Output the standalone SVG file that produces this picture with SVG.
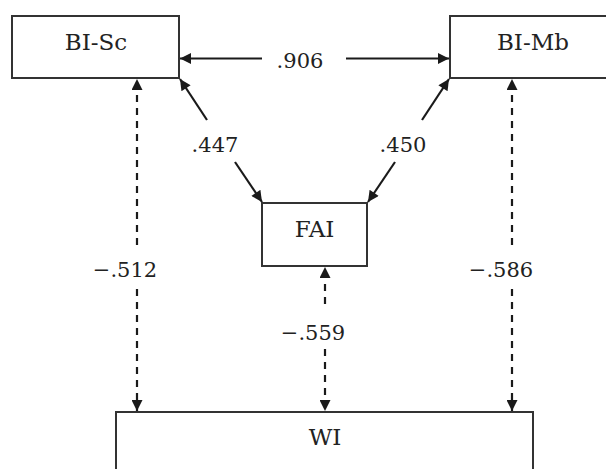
<svg xmlns="http://www.w3.org/2000/svg" width="606" height="469" viewBox="0 0 606 469">
<style>
.box{fill:#fff;stroke:#333;stroke-width:2}
.t{font-family:"DejaVu Serif","Liberation Serif",serif;fill:#222;text-anchor:middle}
.n{font-size:23px}
.lbl{font-size:21px}
.ln{stroke:#1a1a1a;stroke-width:2.2;fill:none}
.dash{stroke-dasharray:7 6}
</style>
<defs>
<marker id="ah" viewBox="0 0 10 10" refX="10" refY="5" markerUnits="userSpaceOnUse" markerWidth="13" markerHeight="11" orient="auto">
<path d="M0,0 L10,5 L0,10 z" fill="#1a1a1a"/>
</marker>
</defs>
<rect width="606" height="469" fill="#fff"/>
<g id="connectors">
<path class="ln" d="M262,58.5 L180,58.5" marker-end="url(#ah)"/>
<path class="ln" d="M346,58.5 L449,58.5" marker-end="url(#ah)"/>
<path class="ln" d="M207,120 L180,79" marker-end="url(#ah)"/>
<path class="ln" d="M235,162 L262,202" marker-end="url(#ah)"/>
<path class="ln" d="M422,120 L449,79" marker-end="url(#ah)"/>
<path class="ln" d="M395,162 L368,202" marker-end="url(#ah)"/>
<path class="ln dash" d="M137,245 L137,79" marker-end="url(#ah)"/>
<path class="ln dash" d="M137,289 L137,411" marker-end="url(#ah)"/>
<path class="ln dash" d="M512,245 L512,79" marker-end="url(#ah)"/>
<path class="ln dash" d="M512,289 L512,411" marker-end="url(#ah)"/>
<path class="ln dash" d="M325,304 L325,267" marker-end="url(#ah)"/>
<path class="ln dash" d="M325,349 L325,411" marker-end="url(#ah)"/>
<text class="t lbl" x="300" y="68">.906</text>
<text class="t lbl" x="215" y="152">.447</text>
<text class="t lbl" x="403" y="152">.450</text>
<text class="t lbl" x="125" y="277">−.512</text>
<text class="t lbl" x="501" y="277">−.586</text>
<text class="t lbl" x="313" y="340">−.559</text>
</g>
<g id="BI-Sc">
<rect class="box" x="12" y="16" width="167" height="62"/>
<text class="t n" x="96" y="50">BI-Sc</text>
</g>
<g id="BI-Mb">
<rect class="box" x="450" y="16" width="166" height="62"/>
<text class="t n" x="533" y="50">BI-Mb</text>
</g>
<g id="FAI">
<rect class="box" x="262" y="203" width="105" height="63"/>
<text class="t n" x="314.5" y="237">FAI</text>
</g>
<g id="WI">
<rect class="box" x="116" y="412" width="417" height="70"/>
<text class="t n" x="325" y="445">WI</text>
</g>
</svg>
